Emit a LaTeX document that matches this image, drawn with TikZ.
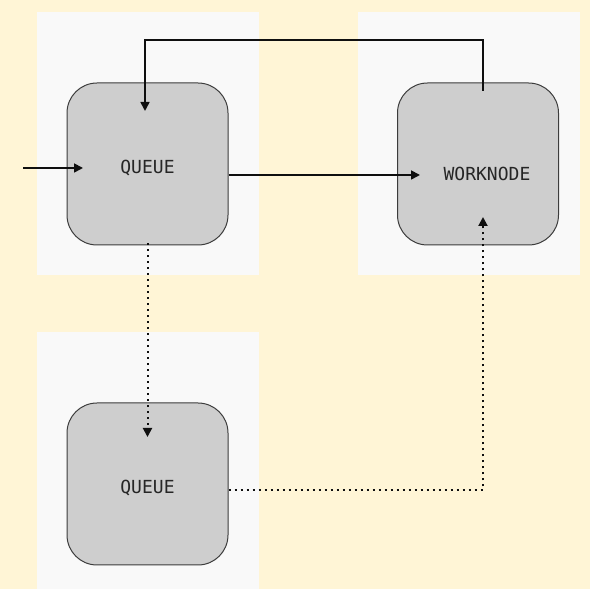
\documentclass[tikz,border=0pt]{standalone}
\usepackage{fontspec}
\setmonofont{DejaVu Sans Mono}
\usetikzlibrary{arrows.meta,calc}
\definecolor{cream}{RGB}{255,245,214}
\definecolor{panelc}{RGB}{249,249,249}
\definecolor{nodec}{RGB}{206,206,206}
\definecolor{borderc}{RGB}{60,60,60}
\definecolor{linec}{RGB}{15,15,15}
\tikzset{
  box/.style={draw=borderc, line width=1pt, fill=nodec, rounded corners=30pt,
    minimum width=161pt, minimum height=162pt, inner sep=0pt,
    font=\ttfamily\fontsize{18}{20}\selectfont, text=black!85},
  panel/.style={fill=panelc, draw=none},
  conn/.style={draw=linec, line width=1.7pt, -{Triangle[length=9pt,width=9pt]}},
  dotconn/.style={draw=linec, line width=2pt, dash pattern=on 2pt off 4pt, -{Triangle[length=9pt,width=9pt]}}
}
\begin{document}
\begin{tikzpicture}[x=1pt,y=1pt]
\useasboundingbox (0,0) rectangle (590,589);
\fill[cream] (0,0) rectangle (590,589);
\fill[panel] (37,314) rectangle (259,577);
\fill[panel] (358,314) rectangle (580,577);
\fill[panel] (37,0) rectangle (259,257);
\node[box] (q1) at (147.5,425) {\raisebox{-4pt}[\height][\depth]{QUEUE}};
\node[box] (w) at (478,425) {\hspace*{18pt}\raisebox{-10pt}[\height][\depth]{WORKNODE}};
\node[box] (q2) at (147.5,105) {\raisebox{-4pt}[\height][\depth]{QUEUE}};
\coordinate (in) at (23,421);
\draw[conn] (in) -- ($(q1.center)+(-64.5,-4)$);
\draw[conn] ([yshift=-11pt]q1.east) -- ($(w.center)+(-58,-11)$);
\draw[conn] ($(w.center)+(5,73)$) -- ++(0,51) -| ($(q1.center)+(-2.5,53)$);
\draw[dotconn] ([yshift=2pt]q1.south) -- ($(q2.center)+(0,47)$);
\draw[dotconn] ([yshift=-6pt]q2.east) -| ($(w.center)+(5,-53)$);
\end{tikzpicture}
\end{document}
